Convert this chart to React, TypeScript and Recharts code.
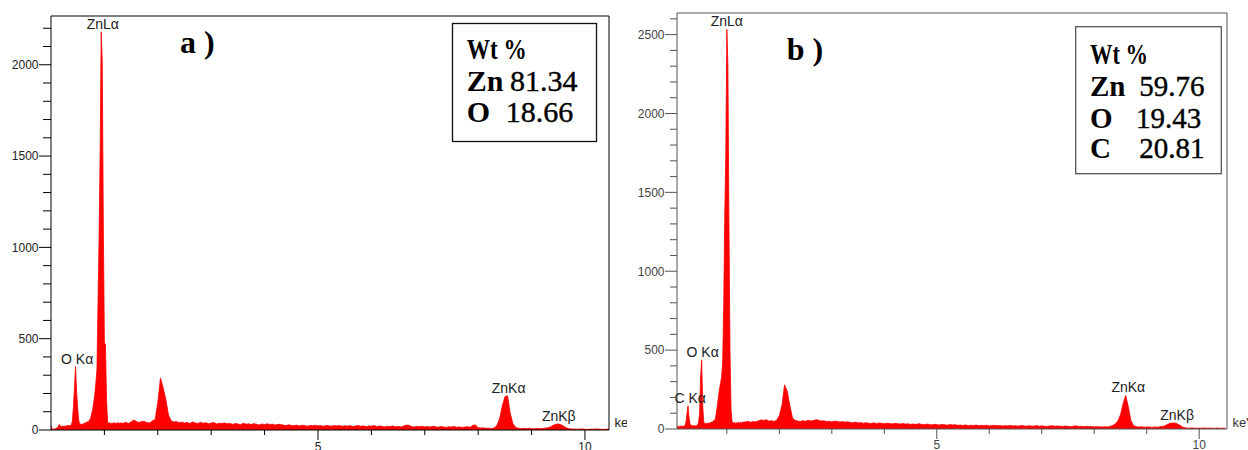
import React from 'react'
import { AreaChart, Area, XAxis, YAxis, ReferenceLine, ReferenceDot } from 'recharts'

const SANS = "'Liberation Sans', Arial, sans-serif"
const SERIF = "'Liberation Serif', 'Times New Roman', serif"

// channel grid: 0.02 keV steps from 0 to 1.30 keV, then 0.05 keV steps up to 10.50 keV
const FINE_STEP = 0.02
const COARSE_STEP = 0.05
const FINE_END = 1.3

// sample a) counts, 0 - 1.30 keV
const countsLowA = [
  25, 8, 4, 5, 6, 12, 9, 24, 30, 17,
  19, 23, 18, 22, 20, 26, 22, 25, 23, 28,
  48, 125, 235, 347, 205, 118, 52, 30, 34, 27,
  36, 32, 41, 37, 46, 41, 55, 62, 88, 112,
  150, 195, 257, 330, 690, 1050, 1510, 2180, 2020, 1120,
  476, 470, 164, 45, 36, 40, 33, 38, 35, 41,
  34, 39, 36, 42, 35, 38,
]
// sample a) counts, 1.35 - 10.50 keV
const countsHighA = [
  37, 42, 36, 44, 55, 47, 40, 48, 46, 41, 38, 50, 58, 150, 285, 232, 168, 82, 50, 44,
  46, 40, 43, 38, 41, 36, 44, 39, 35, 42, 37, 40, 34, 38, 41, 33, 37, 36, 39, 34,
  36, 31, 35, 33, 29, 37, 32, 34, 30, 35, 31, 28, 33, 30, 34, 29, 32, 27, 31, 30,
  27, 24, 29, 25, 23, 27, 22, 26, 24, 21, 25, 23, 26, 22, 24, 20, 25, 23, 21, 24,
  22, 25, 20, 23, 21, 24, 19, 22, 25, 20, 23, 18, 22, 21, 24, 19, 22, 20, 17, 21,
  19, 22, 18, 20, 17, 21, 27, 26, 19, 16, 20, 18, 21, 17, 19, 16, 20, 18, 15, 19,
  17, 14, 18, 16, 19, 15, 17, 14, 16, 18, 15, 26, 27, 13, 11, 12, 9, 10, 8, 11,
  25, 60, 130, 182, 188, 92, 35, 15, 10, 8, 9, 7, 9, 8, 6, 9, 7, 8, 10, 12,
  16, 25, 31, 33, 29, 21, 12, 7, 5, 6, 4, 5, 6, 4, 3, 5, 4, 6, 5, 4,
  3, 5, 4, 4,
]

// sample b) counts, 0 - 1.30 keV
const countsLowB = [
  15, 18, 17, 16, 18, 15, 17, 19, 16, 18,
  22, 40, 95, 147, 70, 28, 24, 20, 22, 19,
  21, 20, 26, 40, 95, 330, 438, 150, 45, 34,
  36, 33, 38, 35, 40, 44, 42, 50, 56, 62,
  105, 150, 205, 253, 290, 330, 418, 787, 1350, 1753,
  2533, 2305, 1290, 492, 120, 45, 38, 42, 36, 40,
  37, 43, 39, 41, 38, 44,
]
// sample b) counts, 1.35 - 10.50 keV
const countsHighB = [
  44, 49, 42, 47, 45, 52, 58, 54, 59, 50, 53, 48, 56, 85, 150, 280, 240, 150, 70, 55,
  50, 47, 53, 49, 55, 51, 54, 59, 56, 50, 52, 47, 49, 45, 50, 48, 44, 47, 43, 46,
  42, 39, 44, 38, 41, 36, 40, 37, 35, 39, 34, 38, 36, 33, 37, 35, 32, 36, 34, 31,
  35, 31, 33, 29, 32, 28, 34, 30, 27, 31, 29, 26, 30, 28, 25, 29, 27, 24, 28, 26,
  27, 23, 25, 22, 26, 21, 24, 22, 25, 20, 23, 21, 24, 19, 22, 23, 20, 22, 19, 21,
  20, 22, 19, 21, 18, 22, 20, 17, 21, 19, 18, 22, 17, 20, 18, 16, 19, 21, 17, 19,
  18, 16, 19, 17, 15, 18, 20, 16, 17, 15, 18, 14, 16, 13, 15, 14, 12, 15, 13, 16,
  22, 32, 50, 90, 160, 213, 140, 52, 21, 15, 12, 14, 11, 13, 12, 10, 13, 11, 14, 16,
  21, 30, 36, 38, 37, 30, 20, 10, 7, 5, 7, 6, 4, 6, 5, 7, 4, 6, 5, 4,
  6, 4, 5, 5,
]

// peak identifications (label centre keV, peak height)
const peaksA = [
  { name: 'O Kα', keV: 0.49, counts: 347 },
  { name: 'ZnLα', keV: 0.97, counts: 2180 },
  { name: 'ZnKα', keV: 8.57, counts: 188 },
  { name: 'ZnKβ', keV: 9.51, counts: 33 },
]
const peaksB = [
  { name: 'C Kα', keV: 0.3, counts: 147 },
  { name: 'O Kα', keV: 0.54, counts: 438 },
  { name: 'ZnLα', keV: 1.0, counts: 2533 },
  { name: 'ZnKα', keV: 8.65, counts: 213 },
  { name: 'ZnKβ', keV: 9.58, counts: 38 },
]

// weight percentages
const wtA = [
  { el: 'Zn', value: '81.34' },
  { el: 'O', value: '18.66' },
]
const wtB = [
  { el: 'Zn', value: '59.76' },
  { el: 'O', value: '19.43' },
  { el: 'C', value: '20.81' },
]

const energyTicks = [1, 2, 3, 4, 5, 6, 7, 8, 9, 10]
const countTicksA = [0, 100, 200, 300, 400, 500, 600, 700, 800, 900, 1000, 1100, 1200, 1300, 1400, 1500, 1600, 1700, 1800, 1900, 2000, 2100, 2200]
const countTicksB = [0, 100, 200, 300, 400, 500, 600, 700, 800, 900, 1000, 1100, 1200, 1300, 1400, 1500, 1600, 1700, 1800, 1900, 2000, 2100, 2200, 2300, 2400, 2500, 2600]

const buildSpectrum = (low: number[], high: number[]) => [
  ...low.map((c, i) => ({ keV: +(i * FINE_STEP).toFixed(2), counts: c })),
  ...high.map((c, i) => ({ keV: +(FINE_END + (i + 1) * COARSE_STEP).toFixed(2), counts: c })),
]

const spectrumA = buildSpectrum(countsLowA, countsHighA)
const spectrumB = buildSpectrum(countsLowB, countsHighB)

const CountTick = (props: any) => {
  const { x, y, payload, minorLen, color, labelColor } = props
  const major = payload.value % 500 === 0
  const len = major ? 12 : minorLen
  return (
    <g>
      <line x1={x - len} x2={x} y1={y} y2={y} stroke={color} strokeWidth={1} />
      {major && (
        <text x={x - len - 0.5} y={y} dy={4.3} textAnchor="end" fontSize={12} fontFamily={SANS} fill={labelColor}>
          {payload.value}
        </text>
      )}
    </g>
  )
}

const EnergyTick = (props: any) => {
  const { x, y, payload, color, labelColor, labelOffset } = props
  const major = payload.value % 5 === 0
  return (
    <g>
      <line x1={x} x2={x} y1={y} y2={y + (major ? 10 : 5)} stroke={color} strokeWidth={1} />
      {major && (
        <text x={x} y={y + labelOffset} textAnchor="middle" fontSize={12} fontFamily={SANS} fill={labelColor}>
          {payload.value}
        </text>
      )}
    </g>
  )
}

const PeakLabel = (props: any) => (
  <text x={props.cx} y={props.cy - 3} textAnchor="middle" fontSize={14} fontFamily={SANS} fill="#222">
    {props.text}
  </text>
)

type SpectrumProps = {
  data: { keV: number; counts: number }[]
  peaks: { name: string; keV: number; counts: number }[]
  width: number
  top: number
  right: number
  xAxisHeight: number
  yAxisWidth: number
  xDomain: [number, number]
  yMax: number
  yTicks: number[]
  minorLen: number
  frame: string
  labelColor: string
  xLabelOffset: number
}

function Spectrum(p: SpectrumProps) {
  return (
    <AreaChart width={p.width} height={450} data={p.data} margin={{ top: p.top, right: p.right, bottom: 0, left: 0 }}>
      <XAxis
        dataKey="keV"
        type="number"
        domain={p.xDomain}
        allowDataOverflow
        ticks={energyTicks}
        height={p.xAxisHeight}
        tickSize={0}
        tickMargin={0}
        interval={0}
        axisLine={{ stroke: p.frame, strokeWidth: 1 }}
        tickLine={false}
        tick={(t: any) => <EnergyTick {...t} color={p.frame} labelColor={p.labelColor} labelOffset={p.xLabelOffset} />}
      />
      <YAxis
        type="number"
        domain={[0, p.yMax]}
        allowDataOverflow
        ticks={p.yTicks}
        width={p.yAxisWidth}
        tickSize={0}
        tickMargin={0}
        axisLine={{ stroke: p.frame, strokeWidth: 1 }}
        tickLine={false}
        interval={0}
        tick={(t: any) => <CountTick {...t} minorLen={p.minorLen} color={p.frame} labelColor={p.labelColor} />}
      />
      <ReferenceLine y={p.yMax} stroke={p.frame} strokeWidth={1} ifOverflow="visible" />
      <ReferenceLine x={p.xDomain[1]} stroke={p.frame} strokeWidth={1} ifOverflow="visible" />
      <Area
        type="linear"
        dataKey="counts"
        stroke="#ff0000"
        strokeWidth={0.8}
        fill="#ff0000"
        fillOpacity={1}
        dot={false}
        activeDot={false}
        isAnimationActive={false}
      />
      {p.peaks.map((pk) => (
        <ReferenceDot
          key={pk.name}
          x={pk.keV}
          y={pk.counts}
          r={0}
          ifOverflow="visible"
          shape={(s: any) => <PeakLabel {...s} text={pk.name} />}
        />
      ))}
    </AreaChart>
  )
}

function WtBox(props: {
  x: number; y: number; w: number; h: number; stroke: string; size: number
  textX: number; baselines: number[]; valueX: number[]; headLen: number
  rows: { el: string; value: string }[]
}) {
  const { x, y, w, h, stroke, size, textX, baselines, valueX, headLen, rows } = props
  return (
    <g>
      <rect x={x} y={y} width={w} height={h} fill="#fff" stroke={stroke} strokeWidth={1.3} />
      <text x={textX} y={baselines[0]} fontFamily={SERIF} fontWeight={700} fontSize={size} fill="#000"
        textLength={headLen} lengthAdjust="spacingAndGlyphs">Wt %</text>
      {rows.map((r, i) => (
        <g key={r.el}>
          <text x={textX} y={baselines[i + 1]} fontFamily={SERIF} fontWeight={700} fontSize={size} fill="#000">{r.el}</text>
          <text x={valueX[i]} y={baselines[i + 1]} fontFamily={SERIF} fontWeight={400} fontSize={size} fill="#000"
            stroke="#000" strokeWidth={0.4}>{r.value}</text>
        </g>
      ))}
    </g>
  )
}

export default function App() {
  return (
    <div style={{ position: 'relative', width: 1248, height: 450, background: '#fff', overflow: 'hidden' }}>
      <style>{'body{margin:0}'}</style>

      {/* a) ZnO */}
      <div style={{ position: 'absolute', left: 0, top: 0, width: 627, height: 450 }}>
        <Spectrum
          data={spectrumA}
          peaks={peaksA}
          width={627}
          top={16}
          right={18}
          xAxisHeight={20}
          yAxisWidth={51}
          xDomain={[0, 10.45]}
          yMax={2267}
          yTicks={countTicksA}
          minorLen={8}
          frame="#000"
          labelColor="#222"
          xLabelOffset={21}
        />
        <svg width={627} height={450} style={{ position: 'absolute', left: 0, top: 0 }}>
          <text x={180} y={53} fontFamily={SERIF} fontWeight={700} fontSize={32} fill="#000">a )</text>
          <WtBox x={452.5} y={23.5} w={144} h={118} stroke="#111" size={30} textX={466.7}
            baselines={[59.3, 91, 121.7]} valueX={[510, 505.7]} headLen={60} rows={wtA} />
          <text x={614.5} y={426.5} fontFamily={SANS} fontSize={13} fill="#222">keV</text>
        </svg>
      </div>

      {/* b) ZnO / C */}
      <div style={{ position: 'absolute', left: 628, top: 0, width: 620, height: 450 }}>
        <Spectrum
          data={spectrumB}
          peaks={peaksB}
          width={620}
          top={13}
          right={21}
          xAxisHeight={21}
          yAxisWidth={49}
          xDomain={[0.05, 10.53]}
          yMax={2637}
          yTicks={countTicksB}
          minorLen={7}
          frame="#555"
          labelColor="#444"
          xLabelOffset={20}
        />
        <svg width={620} height={450} style={{ position: 'absolute', left: 0, top: 0 }}>
          <text x={786.7 - 628} y={60} fontFamily={SERIF} fontWeight={700} fontSize={32} fill="#000">b )</text>
          <WtBox x={1075.7 - 628} y={26.7} w={145.6} h={147} stroke="#555" size={29} textX={1090 - 628}
            baselines={[64, 96, 127.7, 157.7]} valueX={[1139.3 - 628, 1136 - 628, 1139.3 - 628]} headLen={58} rows={wtB} />
          <text x={1232.5 - 628} y={426.5} fontFamily={SANS} fontSize={13} fill="#333">keV</text>
        </svg>
      </div>
    </div>
  )
}
